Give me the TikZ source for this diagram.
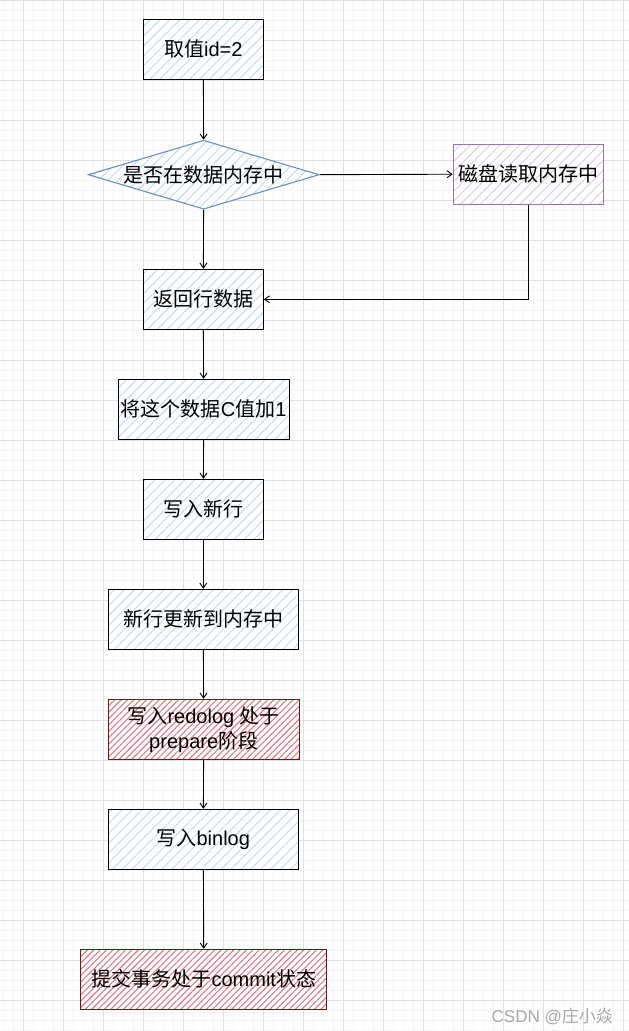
\documentclass[tikz,border=0pt]{standalone}
\usepackage{fontspec}
\setmainfont{Liberation Sans}
\newfontfamily\cjkfont{Noto Sans CJK SC}
\newcommand{\zhtxt}[1]{{\cjkfont #1}}
\usetikzlibrary{shapes.geometric,arrows.meta,patterns.meta}
\definecolor{gridmajor}{HTML}{E0E0E0}
\definecolor{gridminor}{HTML}{F5F5F5}
\definecolor{bluehatch}{HTML}{C2D8F0}
\definecolor{blueborder}{HTML}{6C8EBF}
\definecolor{purplehatch}{HTML}{D8CCE0}
\definecolor{purpleborder}{HTML}{9673A6}
\definecolor{redhatch}{HTML}{DC7A88}
\definecolor{redborder}{HTML}{7A1010}
\definecolor{wmgray}{HTML}{A8A8A8}
\begin{document}
\begin{tikzpicture}[x=1pt,y=-1pt,
  every node/.style={font=\fontsize{20}{25}\selectfont, inner sep=0pt, align=center},
  basebox/.style={rectangle, line width=1.1pt, minimum height=60pt, preaction={fill=white}},
  bluebox/.style={basebox, draw=black, pattern={Lines[angle=45,distance=7pt,line width=0.9pt]}, pattern color=bluehatch},
  purplebox/.style={basebox, draw=purpleborder, pattern={Lines[angle=45,distance=7pt,line width=0.9pt]}, pattern color=purplehatch},
  redbox/.style={basebox, draw=redborder, pattern={Lines[angle=45,distance=4.5pt,line width=1.1pt]}, pattern color=redhatch},
  bluedia/.style={diamond, aspect=3.35, minimum width=231pt, minimum height=69pt, line width=1.1pt, draw=blueborder, preaction={fill=white}, pattern={Lines[angle=45,distance=7pt,line width=0.9pt]}, pattern color=bluehatch},
  conn/.style={draw=black, line width=0.9pt, -{Straight Barb[length=5pt,width=7pt]}},
  minorgrid/.style={draw=gridminor, line width=0.8pt},
  majorgrid/.style={draw=gridmajor, line width=0.9pt}
]
\useasboundingbox (0,0) rectangle (629,1031);
\fill[white] (0,0) rectangle (629,1031);
% grid
\foreach \x in {3,13,...,629} \draw[minorgrid] (\x,0) -- (\x,1031);
\foreach \y in {0,10,...,1031} \draw[minorgrid] (0,\y) -- (629,\y);
\foreach \x in {23,63,...,629} \draw[majorgrid] (\x,0) -- (\x,1031);
\foreach \y in {0,40,...,1031} \draw[majorgrid] (0,\y) -- (629,\y);

% nodes
\node[bluebox, minimum width=120pt] (n1) at (203.3,49.3) {\zhtxt{取值}id=2};
\node[bluedia] (d) at (203.7,174.7) {\zhtxt{是否在数据内存中}};
\node[purplebox, minimum width=150pt] (p) at (528.3,174.2) {\zhtxt{磁盘读取内存中}};
\node[bluebox, minimum width=120pt] (r) at (203.3,299.3) {\zhtxt{返回行数据}};
\node[bluebox, minimum width=171pt] (c) at (203.7,409.3) {\zhtxt{将这个数据}C\zhtxt{值加}1};
\node[bluebox, minimum width=120pt] (w) at (203.3,509.3) {\zhtxt{写入新行}};
\node[bluebox, minimum width=190pt] (m) at (203.3,619.3) {\zhtxt{新行更新到内存中}};
\node[redbox, minimum width=191pt] (rl) at (203.7,729.3) {\zhtxt{写入}redolog \zhtxt{处于}\\prepare\zhtxt{阶段}};
\node[bluebox, minimum width=190pt] (b) at (203.3,839.3) {\zhtxt{写入}binlog};
\node[redbox, minimum width=246pt] (cm) at (203.8,979.3) {\zhtxt{提交事务处于}commit\zhtxt{状态}};

% connectors
\draw[conn] (n1) -- (d);
\draw[conn] (d.east) -- (p.west);
\draw[conn] (d) -- (r);
\draw[conn] (p.south) |- (r.east);
\draw[conn] (r) -- (c);
\draw[conn] (c) -- (w);
\draw[conn] (w) -- (m);
\draw[conn] (m) -- (rl);
\draw[conn] (rl) -- (b);
\draw[conn] (b) -- (cm);

% watermark
\node[font=\fontsize{17}{20}\selectfont, text=wmgray, anchor=east] (wm) at (613,1016) {CSDN @\zhtxt{庄小焱}};
\end{tikzpicture}
\end{document}
